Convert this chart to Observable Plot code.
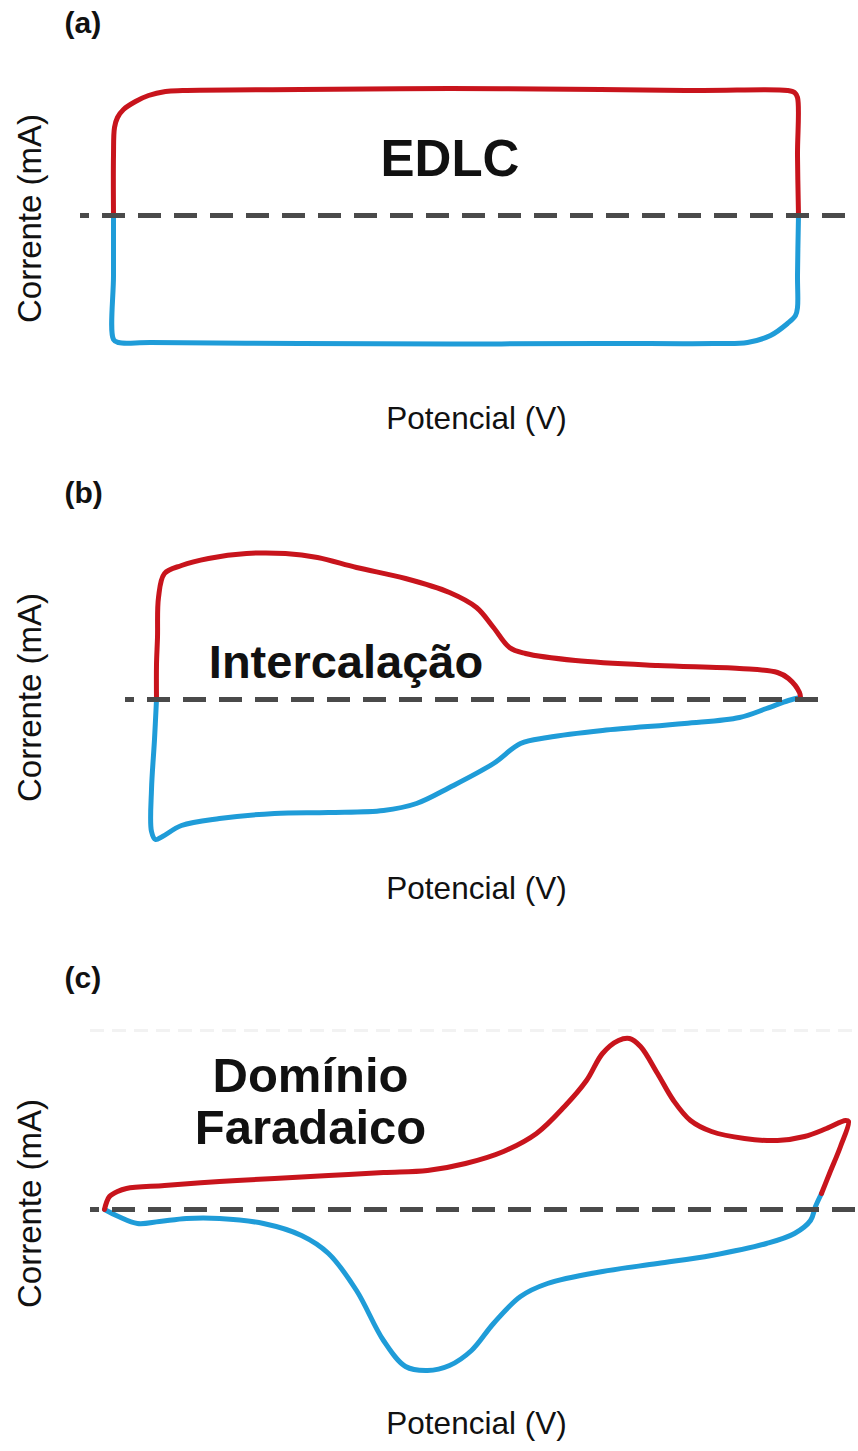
<!DOCTYPE html>
<html>
<head>
<meta charset="utf-8">
<script src="https://cdn.jsdelivr.net/npm/d3@7"></script>
<script src="https://cdn.jsdelivr.net/npm/@observablehq/plot@0.6"></script>
<style>
  body { margin: 0; background: #fff; }
  #chart { width: 858px; }
  #chart svg { display: block; }
</style>
</head>
<body>
<div id="chart"></div>
<script>
// ---------- Data (potential in V, current in mA; arbitrary units) ----------
const panelLabels = ["(a)", "(b)", "(c)"];
const annotations = ["EDLC", "Intercalação", "Domínio\nFaradaico"];
const xLabel = "Potencial (V)";
const yLabel = "Corrente (mA)";

// (a) EDLC
const aRedV  = [0.113, 0.113, 0.114, 0.117, 0.123, 0.135, 0.148, 0.165, 0.182, 0.30, 0.45, 0.60, 0.70, 0.787, 0.794, 0.797, 0.797, 0.798];
const aRedI  = [0.00, 0.60, 0.88, 0.98, 1.06, 1.14, 1.20, 1.24, 1.25, 1.26, 1.27, 1.26, 1.25, 1.25, 1.23, 1.18, 0.60, 0.00];
const aBlueV = [0.798, 0.797, 0.797, 0.795, 0.787, 0.770, 0.747, 0.713, 0.60, 0.45, 0.30, 0.15, 0.118, 0.113, 0.113, 0.113];
const aBlueI = [0.00, -0.60, -0.92, -1.00, -1.08, -1.20, -1.27, -1.28, -1.28, -1.285, -1.28, -1.27, -1.27, -1.24, -0.60, 0.00];

// (b) Intercalação
const bRedV  = [0.156, 0.156, 0.157, 0.158, 0.164, 0.181, 0.208, 0.246, 0.285, 0.317, 0.356, 0.405, 0.449, 0.476, 0.493, 0.509, 0.525, 0.575, 0.657, 0.739, 0.777, 0.788, 0.799, 0.800];
const bRedI  = [0.00, 0.35, 0.62, 1.02, 1.26, 1.34, 1.41, 1.46, 1.46, 1.42, 1.32, 1.21, 1.07, 0.92, 0.72, 0.52, 0.46, 0.39, 0.34, 0.31, 0.27, 0.21, 0.07, 0.02];
const bBlueV = [0.800, 0.788, 0.766, 0.739, 0.684, 0.602, 0.547, 0.520, 0.493, 0.449, 0.416, 0.383, 0.328, 0.274, 0.219, 0.181, 0.162, 0.155, 0.151, 0.151, 0.154, 0.156];
const bBlueI = [0.02, -0.01, -0.09, -0.18, -0.24, -0.31, -0.38, -0.44, -0.64, -0.88, -1.04, -1.11, -1.13, -1.14, -1.19, -1.26, -1.37, -1.40, -1.32, -0.90, -0.40, 0.00];

// (c) Domínio Faradaico
const cRedV  = [0.104, 0.106, 0.109, 0.117, 0.126, 0.164, 0.219, 0.274, 0.328, 0.383, 0.427, 0.465, 0.503, 0.536, 0.564, 0.586, 0.602, 0.618, 0.629, 0.640, 0.657, 0.673, 0.690, 0.711, 0.744, 0.777, 0.804, 0.826, 0.845, 0.848, 0.840, 0.829, 0.821];
const cRedI  = [0.00, 0.07, 0.13, 0.18, 0.21, 0.24, 0.28, 0.31, 0.34, 0.37, 0.39, 0.46, 0.58, 0.76, 1.03, 1.29, 1.56, 1.69, 1.71, 1.63, 1.36, 1.09, 0.89, 0.78, 0.71, 0.69, 0.73, 0.81, 0.89, 0.88, 0.63, 0.36, 0.16];
const cBlueV = [0.821, 0.815, 0.810, 0.794, 0.766, 0.711, 0.657, 0.602, 0.547, 0.520, 0.493, 0.471, 0.449, 0.427, 0.405, 0.383, 0.356, 0.328, 0.301, 0.263, 0.219, 0.186, 0.159, 0.137, 0.118, 0.104];
const cBlueI = [0.16, 0.03, -0.11, -0.24, -0.34, -0.46, -0.54, -0.62, -0.74, -0.87, -1.14, -1.41, -1.56, -1.61, -1.57, -1.31, -0.81, -0.44, -0.26, -0.14, -0.09, -0.09, -0.12, -0.14, -0.07, 0.00];

// zero-current reference line extents (V)
const zeroLineV = [[0.080, 0.858], [0.125, 0.830], [0.090, 0.858]];
// annotation anchor (V, mA)
const noteV = [0.4495, 0.3455, 0.31];
const noteI = [0.40, 0.22, 0.66];
const noteSize = [51, 47, 49];

// ---------- Layout ----------
const RED = "#c8141c";
const BLUE = "#1f9cd8";
const FONT = "'Liberation Sans', Arial, Helvetica, sans-serif";

const layout = [
  {height: 470, yDomain: [-2.55, 2.15], xLabY: 428, yLabY: 218},
  {height: 485, yDomain: [-2.56, 2.29], xLabY: 428, yLabY: 227},
  {height: 496, yDomain: [-2.42, 2.54], xLabY: 478, yLabY: 248}
];

const series = [
  [aRedV, aRedI, aBlueV, aBlueI],
  [bRedV, bRedI, bBlueV, bBlueI],
  [cRedV, cRedI, cBlueV, cBlueI]
];

const zip = (V, I) => V.map((v, k) => ({v, i: I[k]}));

function panel(k) {
  const [rV, rI, bV, bI] = series[k];
  const L = layout[k];
  const marks = [];
  if (k === 2) {
    // faint grid remnant at top of panel (c)
    marks.push(Plot.ruleY([{y: 1.79, x1: 0.09, x2: 0.858}], {y: "y", x1: "x1", x2: "x2", stroke: "#f2f2f2", strokeWidth: 3, strokeDasharray: "14,8"}));
  }
  marks.push(
    Plot.line(zip(bV, bI), {x: "v", y: "i", stroke: BLUE, strokeWidth: 5, curve: "catmull-rom", strokeLinejoin: "round", strokeLinecap: "round"}),
    Plot.line(zip(rV, rI), {x: "v", y: "i", stroke: RED, strokeWidth: 5, curve: "catmull-rom", strokeLinejoin: "round", strokeLinecap: "round"}),
    Plot.ruleY([{y: 0, x1: zeroLineV[k][0], x2: zeroLineV[k][1]}], {y: "y", x1: "x1", x2: "x2", stroke: "#4a4a4a", strokeWidth: 5, strokeDasharray: "23,13", strokeDashoffset: 14}),
    Plot.text([{t: annotations[k], v: noteV[k], i: noteI[k]}], {x: "v", y: "i", text: "t", textAnchor: "middle", lineAnchor: "bottom", lineHeight: 1.06, fontSize: noteSize[k], fontWeight: "bold", fill: "#111"}),
    Plot.text([panelLabels[k]], {frameAnchor: "top-left", dx: 64, dy: 32, textAnchor: "start", lineAnchor: "bottom", fontSize: 30, fontWeight: "bold", fill: "#111"}),
    Plot.text([xLabel], {frameAnchor: "top-left", dx: 476, dy: L.xLabY, textAnchor: "middle", lineAnchor: "bottom", fontSize: 31.5, fill: "#111"}),
    Plot.text([yLabel], {frameAnchor: "top-left", dx: 30, dy: L.yLabY, rotate: -90, textAnchor: "middle", lineAnchor: "middle", fontSize: 33, fill: "#111"})
  );
  return Plot.plot({
    width: 858,
    height: L.height,
    marginTop: 0, marginBottom: 0, marginLeft: 0, marginRight: 0,
    x: {domain: [0, 0.858], axis: null},
    y: {domain: L.yDomain, axis: null},
    style: {fontFamily: FONT, background: "#fff", color: "#111"},
    marks
  });
}

const root = document.getElementById("chart");
for (let k = 0; k < 3; k++) root.appendChild(panel(k));
</script>
</body>
</html>
